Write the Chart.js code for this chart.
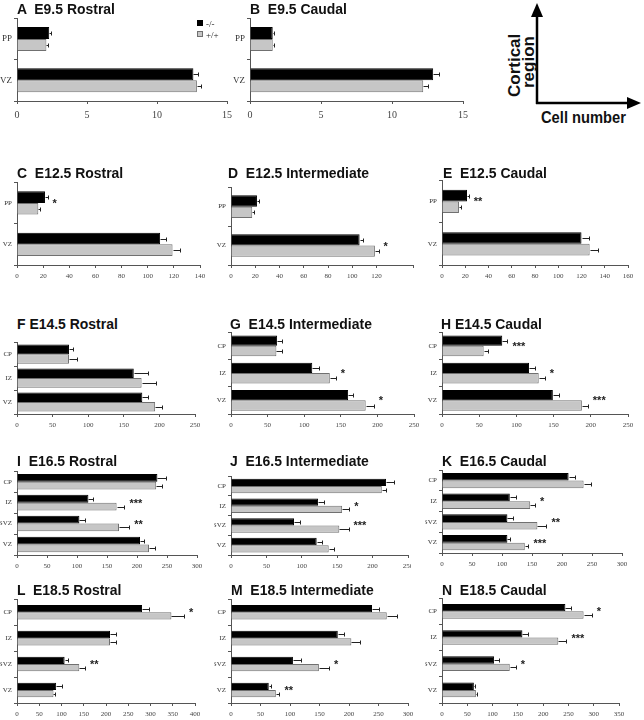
<!DOCTYPE html>
<html>
<head>
<meta charset="utf-8">
<script src="https://cdn.jsdelivr.net/npm/chart.js@4.4.1/dist/chart.umd.min.js"></script>
<style>
  body { margin: 0; background: #fff; width: 644px; height: 720px; position: relative; overflow: hidden; }
  .panel { position: absolute; overflow: hidden; }
  .panel canvas { display: block; }
  .title { position: absolute; font: bold 15px "Liberation Sans", Arial, sans-serif; line-height: 15px; white-space: pre; color: #111;
           transform: scaleX(0.93); transform-origin: 0 0; }
  .legend { position: absolute; font: 9px "Liberation Serif", "DejaVu Serif", serif; color: #222; line-height: 11px; }
  .legend span.sw { display: inline-block; width: 6px; height: 6px; margin-right: 3px; vertical-align: 1px; box-sizing: border-box; }
</style>
</head>
<body>

<svg width="644" height="130" style="position:absolute;left:0;top:0">
  <g stroke="#000" stroke-width="2.5">
    <line x1="537" y1="104" x2="537" y2="16"/>
    <line x1="536" y1="103" x2="628" y2="103"/>
  </g>
  <polygon points="531,17 543,17 537,3" fill="#000"/>
  <polygon points="627,97 627,109 641,103" fill="#000"/>
  <g font-family="Liberation Sans, Arial, sans-serif" font-weight="bold" font-size="17" fill="#111">
    <text transform="translate(520,97) rotate(-90)">Cortical</text>
    <text transform="translate(534,88) rotate(-90)">region</text>
    <text x="541" y="123" textLength="85" lengthAdjust="spacingAndGlyphs">Cell number</text>
  </g>
</svg>

<script>
"use strict";

const genotypes = ['-/-', '+/+'];
const zonesEarly = ['PP', 'VZ'];
const zonesMid = ['CP', 'IZ', 'VZ'];
const zonesLate = ['CP', 'IZ', 'SVZ', 'VZ'];

// A  E9.5 Rostral
const aKo = [2.3, 12.6], aKoErr = [0.12, 0.3];
const aWt = [2.1, 12.85], aWtErr = [0.1, 0.3];
const aSig = ['', ''];
// B  E9.5 Caudal
const bKo = [1.6, 12.9], bKoErr = [0.1, 0.4];
const bWt = [1.6, 12.2], bWtErr = [0.1, 0.35];
const bSig = ['', ''];
// C  E12.5 Rostral
const cKo = [21.4, 109.5], cKoErr = [2, 4.5];
const cWt = [16.3, 119], cWtErr = [1.5, 5.5];
const cSig = ['*', ''];
// D  E12.5 Intermediate
const dKo = [21.4, 106], dKoErr = [2, 3];
const dWt = [17.5, 118.6], dWtErr = [1.5, 3];
const dSig = ['', '*'];
// E  E12.5 Caudal
const eKo = [21.5, 120], eKoErr = [1.5, 6.5];
const eWt = [14.6, 127], eWtErr = [1.5, 7];
const eSig = ['**', ''];
// F  E14.5 Rostral
const fKo = [73, 164, 176], fKoErr = [6, 20, 8];
const fWt = [73, 175, 194], fWtErr = [11, 20, 9];
const fSig = ['', '', ''];
// G  E14.5 Intermediate
const gKo = [63, 111, 160], gKoErr = [7, 9, 7];
const gWt = [62, 135, 184], gWtErr = [7, 8, 11];
const gSig = ['', '*', '*'];
// H  E14.5 Caudal
const hKo = [81, 117, 149], hKoErr = [7, 8, 8];
const hWt = [56, 130, 188], hWtErr = [6, 8, 8];
const hSig = ['***', '*', '***'];
// I  E16.5 Rostral
const iKo = [234, 119, 104, 205], iKoErr = [15, 8, 10, 7];
const iWt = [232, 166, 170, 220], iWtErr = [9, 13, 17, 10];
const iSig = ['', '***', '**', ''];
// J  E16.5 Intermediate
const jKo = [219, 123, 89, 121], jKoErr = [11, 8, 8, 8];
const jWt = [213, 157, 153, 138], jWtErr = [6, 10, 13, 8];
const jSig = ['', '*', '***', ''];
// K  E16.5 Caudal
const kKo = [211, 113, 109, 109], kKoErr = [11, 11, 10, 5];
const kWt = [236, 147, 159, 138], kWtErr = [13, 8, 15, 6];
const kSig = ['', '*', '**', '***'];
// L  E18.5 Rostral
const lKo = [281, 209, 107, 88], lKoErr = [16, 14, 8, 14];
const lWt = [347, 209, 140, 82], lWtErr = [28, 14, 13, 4];
const lSig = ['*', '', '**', ''];
// M  E18.5 Intermediate
const mKo = [239, 181, 105, 64], mKoErr = [12, 11, 14, 4];
const mWt = [264, 204, 149, 76], mWtErr = [17, 14, 17, 6];
const mSig = ['', '', '*', '**'];
// N  E18.5 Caudal
const nKo = [244, 159, 103, 63], nKoErr = [12, 12, 10, 2];
const nWt = [280, 230, 134, 67], nWtErr = [16, 16, 12, 3];
const nSig = ['*', '***', '*', ''];

// layout: plot box [left, top, width, height], title position, category share
const panels = [
  { title: 'A  E9.5 Rostral', t: [17, 1], zones: zonesEarly, ko: aKo, koErr: aKoErr, wt: aWt, wtErr: aWtErr, sig: aSig, max: 15, step: 5, box: [17, 15, 210, 86], cat: 0.58, big: true },
  { title: 'B  E9.5 Caudal', t: [250, 1], zones: zonesEarly, ko: bKo, koErr: bKoErr, wt: bWt, wtErr: bWtErr, sig: bSig, max: 15, step: 5, box: [250, 15, 213, 86], cat: 0.58, big: true },
  { title: 'C  E12.5 Rostral', t: [17, 165], zones: zonesEarly, ko: cKo, koErr: cKoErr, wt: cWt, wtErr: cWtErr, sig: cSig, max: 140, step: 20, box: [17, 180, 183, 85], cat: 0.56 },
  { title: 'D  E12.5 Intermediate', t: [228, 165], zones: zonesEarly, ko: dKo, koErr: dKoErr, wt: dWt, wtErr: dWtErr, sig: dSig, max: 150, step: 20, box: [231, 185, 182, 80], cat: 0.58 },
  { title: 'E  E12.5 Caudal', t: [443, 165], zones: zonesEarly, ko: eKo, koErr: eKoErr, wt: eWt, wtErr: eWtErr, sig: eSig, max: 160, step: 20, box: [442, 178, 186, 87], cat: 0.55 },
  { title: 'F E14.5 Rostral', t: [17, 316], zones: zonesMid, ko: fKo, koErr: fKoErr, wt: fWt, wtErr: fWtErr, sig: fSig, max: 250, step: 50, box: [17, 340, 178, 74], cat: 0.8 },
  { title: 'G  E14.5 Intermediate', t: [230, 316], zones: zonesMid, ko: gKo, koErr: gKoErr, wt: gWt, wtErr: gWtErr, sig: gSig, max: 250, step: 50, box: [231, 330, 183, 84], cat: 0.76 },
  { title: 'H E14.5 Caudal', t: [441, 316], zones: zonesMid, ko: hKo, koErr: hKoErr, wt: hWt, wtErr: hWtErr, sig: hSig, max: 250, step: 50, box: [442, 330, 186, 84], cat: 0.76 },
  { title: 'I  E16.5 Rostral', t: [17, 453], zones: zonesLate, ko: iKo, koErr: iKoErr, wt: iWt, wtErr: iWtErr, sig: iSig, max: 300, step: 50, box: [17, 469, 180, 86], cat: 0.74 },
  { title: 'J  E16.5 Intermediate', t: [230, 453], zones: zonesLate, ko: jKo, koErr: jKoErr, wt: jWt, wtErr: jWtErr, sig: jSig, max: 250, step: 50, box: [231, 474, 177, 81], cat: 0.74, clip: 411 },
  { title: 'K  E16.5 Caudal', t: [442, 453], zones: zonesLate, ko: kKo, koErr: kKoErr, wt: kWt, wtErr: kWtErr, sig: kSig, max: 300, step: 50, box: [442, 468, 180, 85], cat: 0.74 },
  { title: 'L  E18.5 Rostral', t: [17, 582], zones: zonesLate, ko: lKo, koErr: lKoErr, wt: lWt, wtErr: lWtErr, sig: lSig, max: 400, step: 50, box: [17, 597, 178, 106], cat: 0.56 },
  { title: 'M  E18.5 Intermediate', t: [231, 582], zones: zonesLate, ko: mKo, koErr: mKoErr, wt: mWt, wtErr: mWtErr, sig: mSig, max: 300, step: 50, box: [231, 597, 177, 106], cat: 0.56 },
  { title: 'N  E18.5 Caudal', t: [442, 582], zones: zonesLate, ko: nKo, koErr: nKoErr, wt: nWt, wtErr: nWtErr, sig: nSig, max: 350, step: 50, box: [442, 596, 177, 107], cat: 0.56 }
];

const AXIS = '#555';
const SERIF = '"Liberation Serif", "DejaVu Serif", serif';
const Y_W = 17, X_H = 24, PAD_T = 4, PAD_R = 10;

// error bars (outward only) and significance stars
const errorBars = {
  id: 'errorBars',
  afterDatasetsDraw(chart, args, opts) {
    const { ctx, scales: { x, y } } = chart;
    ctx.save();
    ctx.strokeStyle = '#222';
    ctx.lineWidth = 1;
    chart.data.datasets.forEach((ds, i) => {
      chart.getDatasetMeta(i).data.forEach((bar, j) => {
        const x0 = Math.round(x.getPixelForValue(ds.data[j])) + 0.5;
        const x1 = Math.round(x.getPixelForValue(ds.data[j] + ds.errors[j])) + 0.5;
        const yy = Math.round(bar.y) + 0.5;
        ctx.beginPath();
        ctx.moveTo(x0, yy); ctx.lineTo(x1, yy);
        ctx.moveTo(x1, yy - 2); ctx.lineTo(x1, yy + 2);
        ctx.stroke();
      });
    });
    ctx.fillStyle = '#222';
    ctx.font = 'bold 11px "Liberation Sans", Arial, sans-serif';
    ctx.textBaseline = 'middle';
    opts.sig.forEach((s, j) => {
      if (!s) return;
      const ends = chart.data.datasets.map(ds => ds.data[j] + ds.errors[j]);
      const px = x.getPixelForValue(Math.max(...ends)) + 5;
      ctx.fillText(s, px, y.getPixelForValue(j) + 1);
    });
    ctx.restore();
  }
};

window.onload = init;

function init() {
  panels.forEach(p => {
    const [left, top, w, h] = p.box;
    const cw = Y_W + w + PAD_R, ch = PAD_T + h + X_H;

    const wrap = document.createElement('div');
    wrap.className = 'panel';
    wrap.style.left = (left - Y_W) + 'px';
    wrap.style.top = (top - PAD_T) + 'px';
    wrap.style.width = (p.clip ? p.clip - (left - Y_W) : cw) + 'px';
    wrap.style.height = ch + 'px';
    const canvas = document.createElement('canvas');
    canvas.width = cw;
    canvas.height = ch;
    wrap.appendChild(canvas);
    document.body.appendChild(wrap);

    const t = document.createElement('div');
    t.className = 'title';
    t.textContent = p.title;
    t.style.left = p.t[0] + 'px';
    t.style.top = p.t[1] + 'px';
    document.body.appendChild(t);

    const tickSize = p.big ? 10 : 7;
    const catSize = p.big ? 9 : 7;

    new Chart(canvas, {
      type: 'bar',
      data: {
        labels: p.zones,
        datasets: [
          { label: genotypes[0], data: p.ko, errors: p.koErr, backgroundColor: '#000', borderColor: '#000', borderWidth: 1,
            categoryPercentage: p.cat, barPercentage: 1 },
          { label: genotypes[1], data: p.wt, errors: p.wtErr, backgroundColor: '#c6c6c6', borderColor: '#707070', borderWidth: 1,
            categoryPercentage: p.cat, barPercentage: 1 }
        ]
      },
      options: {
        indexAxis: 'y',
        responsive: false,
        animation: false,
        devicePixelRatio: 1,
        layout: { padding: { top: PAD_T, right: PAD_R, left: 0, bottom: 0 } },
        plugins: {
          legend: { display: false },
          tooltip: { enabled: false },
          errorBars: { sig: p.sig }
        },
        scales: {
          x: {
            min: 0, max: p.max,
            ticks: {
              stepSize: p.step, autoSkip: false, maxRotation: 0, color: '#444',
              padding: p.big ? 5 : 4,
              font: { family: SERIF, size: tickSize },
              callback: v => (v % p.step === 0 ? v : '')
            },
            grid: { drawOnChartArea: false, tickLength: 3, color: AXIS },
            border: { color: AXIS },
            afterFit: s => { s.height = X_H; }
          },
          y: {
            ticks: { color: '#333', padding: 2, font: { family: SERIF, size: catSize } },
            grid: { offset: true, drawOnChartArea: false, tickLength: 3, color: AXIS },
            border: { color: AXIS },
            afterFit: s => { s.width = Y_W; }
          }
        }
      },
      plugins: [errorBars]
    });
  });

  // legend of panel A
  const lg = document.createElement('div');
  lg.className = 'legend';
  lg.style.left = '197px';
  lg.style.top = '19px';
  lg.innerHTML = genotypes.map((g, i) =>
    '<div><span class="sw" style="background:' + (i ? '#c6c6c6;border:1px solid #707070' : '#000') + '"></span>' + g + '</div>'
  ).join('');
  document.body.appendChild(lg);
}
</script>
</body>
</html>
